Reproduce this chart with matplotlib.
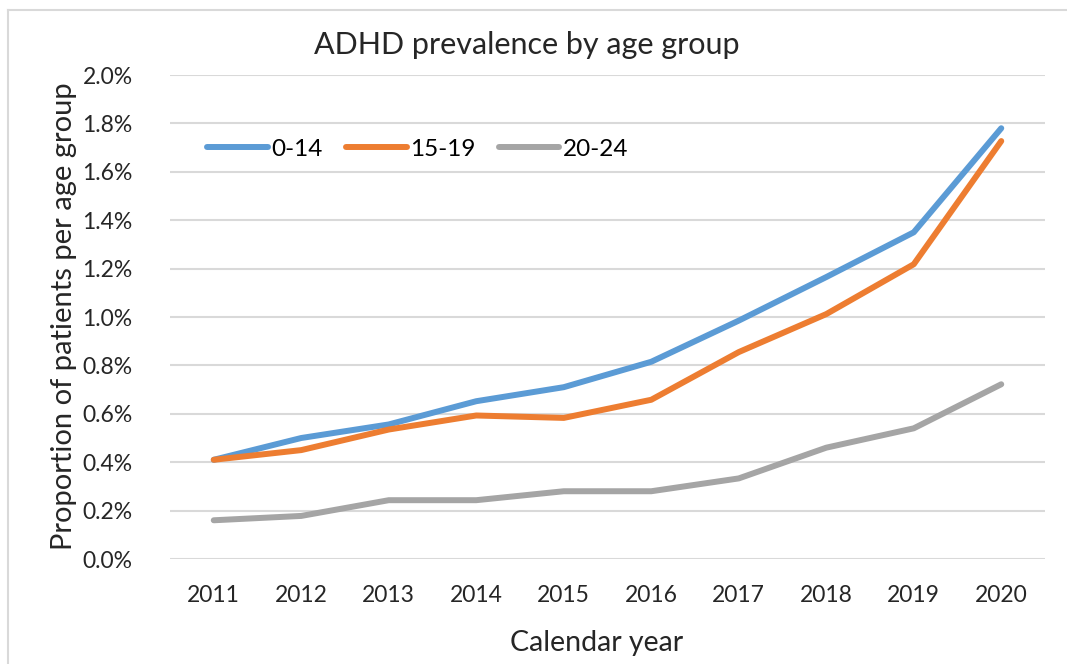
import numpy as np
import matplotlib.pyplot as plt
from matplotlib.lines import Line2D
from matplotlib.ticker import FuncFormatter

years = ['2011', '2012', '2013', '2014', '2015', '2016', '2017', '2018', '2019', '2020']
age_0_14 = [0.41, 0.50, 0.556, 0.652, 0.71, 0.815, 0.985, 1.165, 1.35, 1.78]
age_15_19 = [0.41, 0.45, 0.535, 0.593, 0.583, 0.658, 0.855, 1.012, 1.218, 1.727]
age_20_24 = [0.16, 0.178, 0.243, 0.243, 0.28, 0.28, 0.333, 0.46, 0.54, 0.722]

plt.rcParams['font.family'] = ['Lato', 'DejaVu Sans']
txt = '#262626'

fig = plt.figure(figsize=(10.67, 6.64), dpi=100)
ax = fig.add_axes([170/1067, 1-559/664, 875/1067, 484/664])

x = np.arange(len(years))
ax.plot(x, age_0_14, color='#5B9BD5', lw=4.3, solid_capstyle='round', label='0-14')
ax.plot(x, age_15_19, color='#ED7D31', lw=4.3, solid_capstyle='round', label='15-19')
ax.plot(x, age_20_24, color='#A5A5A5', lw=4.3, solid_capstyle='round', label='20-24')

ax.set_xlim(-0.5, len(years) - 0.5)
ax.set_ylim(0, 2.0)
ax.set_yticks(np.arange(0, 2.01, 0.2))
ax.yaxis.set_major_formatter(FuncFormatter(lambda v, p: f'{v:.1f}%'))
ax.set_xticks(x)
ax.set_xticklabels(years)
ax.grid(axis='y', color='#D9D9D9', lw=1.5)
ax.set_axisbelow(True)
for s in ax.spines.values():
    s.set_visible(False)
ax.tick_params(length=0, labelsize=16.5, colors=txt)
ax.tick_params(axis='y', pad=27)
ax.tick_params(axis='x', pad=19)

fig.text(527/1067, 1-45/664, 'ADHD prevalence by age group', fontsize=22, color=txt,
         ha='center', va='center')
fig.text(597/1067, 1-643/664, 'Calendar year', fontsize=20.5, color=txt,
         ha='center', va='center')
fig.text(64/1067, 1-316/664, 'Proportion of patients per age group', fontsize=21, color=txt,
         ha='center', va='center', rotation=90)

ax.legend(loc='center left', bbox_to_anchor=(15/875, 1-(149-75)/484), ncol=3, frameon=False,
          fontsize=17.5, handlelength=2.5, handletextpad=0.15, columnspacing=0.95)

fig.add_artist(Line2D([8/1067, 8/1067], [0, 1-10/664], color='#D9D9D9', lw=1.5))
fig.add_artist(Line2D([8/1067, 1], [1-10/664, 1-10/664], color='#D9D9D9', lw=1.5))

fig.savefig('out.png', dpi=100)
